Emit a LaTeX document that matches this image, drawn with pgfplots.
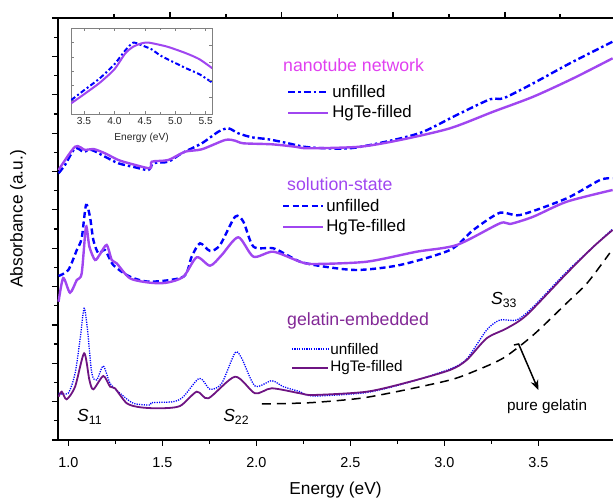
\documentclass[border=0pt]{standalone}
\usepackage{fontspec}
\setmainfont{Liberation Sans}
\usepackage{pgfplots}
\pgfplotsset{compat=1.18}
\usetikzlibrary{arrows.meta}
\definecolor{vio}{RGB}{160,70,240}
\definecolor{mag}{RGB}{224,64,240}
\definecolor{dpur}{RGB}{110,20,130}
\definecolor{gtit}{RGB}{130,40,150}
\definecolor{bl}{RGB}{0,0,255}
\begin{document}
\begin{tikzpicture}
% main axis
\begin{axis}[at={(0,0)}, anchor=south west, scale only axis, width=555pt, height=422pt,
  xmin=0.945, xmax=3.897, ymin=0, ymax=422, clip=false,
  axis x line*=bottom, axis y line*=left, axis line style={-, line width=1.5pt},
  xtick={1,1.5,...,3.5}, minor x tick num=1,
  ytick={0,38.36,...,422}, minor y tick num=1, yticklabels={},
  tick align=outside, major tick length=6pt, minor tick length=4pt,
  every tick/.style={black, line width=1.2pt},
  /pgf/number format/assume math mode=true,
  xticklabel style={yshift=-8pt, font=\fontsize{14.4}{16}\selectfont, /pgf/number format/fixed, /pgf/number format/fixed zerofill, /pgf/number format/precision=1},
  xlabel={Energy (eV)}, ylabel={Absorbance (a.u.)},
  label style={font=\fontsize{17.3}{20}\selectfont},
  xlabel style={at={(axis description cs:0.5,-0.118)}, anchor=center},
  ylabel style={at={(axis description cs:-0.072,0.524)}, anchor=center},
  every axis plot/.append style={smooth, tension=0.45},
]
% nanotube network
\addplot[bl, line width=2.4pt, dash pattern=on 7pt off 3pt on 2.5pt off 3pt] coordinates {
(0.948,266.7)(0.982,275)(1.036,291.7)(1.08,288.3)(1.124,290)(1.195,283.3)(1.266,276.7)(1.355,272.7)(1.426,270)(1.452,276.7)(1.532,278.3)(1.603,286.7)(1.71,296.7)(1.798,308.3)(1.851,311.7)(1.904,306.7)(1.976,302.7)(2.064,300.7)(2.17,296.7)(2.277,292.7)(2.498,291.7)(2.729,300)(2.888,308.3)(3.066,325)(3.243,340.7)(3.314,341.7)(3.473,356.7)(3.668,376.7)(3.895,398.3)};
\addplot[vio, line width=2.4pt] coordinates {
(0.948,270)(1.036,293.3)(1.089,290)(1.133,291)(1.195,286.7)(1.266,280)(1.337,276)(1.435,271.7)(1.444,278.3)(1.532,280)(1.621,288.3)(1.71,290.7)(1.834,300)(1.887,299.3)(1.931,296.7)(2.082,295.7)(2.206,293.3)(2.277,291.7)(2.552,293.3)(2.764,300)(3.03,311.7)(3.26,328.3)(3.473,343.3)(3.686,361.7)(3.895,381.7)};
% solution-state
\addplot[bl, line width=2.4pt, dash pattern=on 6pt off 3.5pt] coordinates {
(0.948,164)(1.0,170)(1.045,190)(1.071,201.7)(1.094,235)(1.115,223.3)(1.133,200)(1.16,186.7)(1.195,190)(1.239,175)(1.328,163.3)(1.435,158.3)(1.612,163.3)(1.656,183.3)(1.70,196.7)(1.754,189)(1.807,195)(1.887,223.3)(1.931,218.3)(1.985,193.3)(2.09,191.7)(2.18,183.3)(2.232,178.3)(2.339,174)(2.534,170)(2.764,175)(3.03,190)(3.154,210)(3.296,227.3)(3.403,225)(3.651,241.7)(3.828,260)(3.895,261.7)};
\addplot[vio, line width=2.4pt] coordinates {
(0.948,138.3)(0.973,162)(1.009,147.3)(1.045,160)(1.071,166.7)(1.094,213.3)(1.112,193.3)(1.142,180)(1.169,186)(1.204,195)(1.231,180)(1.257,176.7)(1.328,161.7)(1.435,157.3)(1.523,157.3)(1.612,163.3)(1.683,182.7)(1.754,174.3)(1.816,185)(1.904,202.7)(1.985,183.3)(2.09,188.3)(2.232,178.3)(2.305,176)(2.587,178.3)(2.853,188.3)(3.066,195)(3.296,216.7)(3.35,216)(3.473,223.3)(3.651,238.3)(3.895,250)};
% gelatin-embedded
\addplot[bl, line width=1.3pt, dash pattern=on 1.2pt off 1.2pt] coordinates {
(0.948,46.7)(1.0,47)(1.036,66.7)(1.062,100)(1.084,131.7)(1.102,110)(1.125,66.7)(1.151,60)(1.186,74)(1.222,56.7)(1.275,46.7)(1.346,36.7)(1.435,35)(1.444,37.3)(1.558,38.3)(1.612,43.3)(1.697,61.7)(1.754,50.7)(1.816,56.7)(1.887,87.3)(1.922,81.7)(1.993,54)(2.082,59.3)(2.144,53.3)(2.232,48.3)(2.303,44)(2.587,47.5)(2.817,58)(3.03,71)(3.119,81)(3.225,110)(3.296,120)(3.385,120)(3.473,133.3)(3.651,168.3)(3.793,193.3)(3.895,211)};
\addplot[dpur, line width=1.8pt] coordinates {
(0.948,43.3)(0.965,48.3)(0.991,40.7)(1.036,53.3)(1.084,86.7)(1.112,60)(1.133,50.7)(1.186,64)(1.222,53.3)(1.248,51.7)(1.311,36.7)(1.382,32.7)(1.488,31.7)(1.594,34)(1.683,48.3)(1.745,41.7)(1.887,63.3)(1.993,46.7)(2.082,51.7)(2.232,46.7)(2.303,45)(2.587,48.3)(2.817,58.3)(3.03,70)(3.119,80)(3.225,101.7)(3.332,111.7)(3.438,125)(3.651,166.7)(3.793,193.3)(3.895,210)};
% pure gelatin
\addplot[black, line width=1.5pt, dash pattern=on 9pt off 6pt] coordinates {
(2.029,36)(2.286,37.3)(2.552,41.7)(2.764,49)(3.03,60)(3.154,68.3)(3.314,82)(3.473,105)(3.651,137)(3.76,157)(3.88,187)};
% legends
\node[anchor=west, inner sep=0, text=mag, font=\fontsize{17.7}{20}\selectfont] at (2.142,375) {nanotube network};
\draw[bl, line width=2.4pt, dash pattern=on 7pt off 3pt on 2.5pt off 3pt] (2.169,348) -- (2.382,348);
\node[anchor=west, inner sep=0, font=\fontsize{16.8}{19}\selectfont] at (2.403,348) {unfilled};
\draw[vio, line width=2.4pt] (2.169,327) -- (2.382,327);
\node[anchor=west, inner sep=0, font=\fontsize{16.8}{19}\selectfont] at (2.403,327) {HgTe-filled};

\node[anchor=west, inner sep=0, text=vio, font=\fontsize{17.7}{20}\selectfont] at (2.163,256) {solution-state};
\draw[bl, line width=2.4pt, dash pattern=on 6pt off 3.5pt] (2.142,234) -- (2.354,234);
\node[anchor=west, inner sep=0, font=\fontsize{16.8}{19}\selectfont] at (2.371,234) {unfilled};
\draw[vio, line width=2.4pt] (2.142,213) -- (2.354,213);
\node[anchor=west, inner sep=0, font=\fontsize{16.8}{19}\selectfont] at (2.371,213) {HgTe-filled};

\node[anchor=west, inner sep=0, text=gtit, font=\fontsize{17.7}{20}\selectfont] at (2.163,119.3) {gelatin-embedded};
\draw[bl, line width=1.3pt, dash pattern=on 1.2pt off 1.2pt] (2.19,91) -- (2.382,91);
\node[anchor=west, inner sep=0, font=\fontsize{15.3}{17}\selectfont] at (2.392,91) {unfilled};
\draw[dpur, line width=1.8pt] (2.19,72) -- (2.382,72);
\node[anchor=west, inner sep=0, font=\fontsize{15.3}{17}\selectfont] at (2.392,72) {HgTe-filled};

\node[anchor=west, inner sep=0, font=\fontsize{15.3}{17}\selectfont] at (3.333,33) {pure gelatin};
\draw[line width=1.5pt, -{Stealth[length=10pt,width=8pt]}] (3.37,95) -- (3.395,96) -- (3.5,50);

\node[anchor=west, inner sep=0, font=\fontsize{17.5}{20}\selectfont] at (1.046,23) {\textit{S}\textsubscript{11}};
\node[anchor=west, inner sep=0, font=\fontsize{17.5}{20}\selectfont] at (1.823,23) {\textit{S}\textsubscript{22}};
\node[anchor=west, inner sep=0, font=\fontsize{17.5}{20}\selectfont] at (3.248,140) {\textit{S}\textsubscript{33}};
\end{axis}
% top axis with its own ticks
\begin{axis}[at={(0,0)}, anchor=south west, scale only axis, width=555pt, height=422pt,
  xmin=0.945, xmax=3.897, ymin=0, ymax=422,
  axis x line*=top, axis y line=none, axis line style={-, line width=1.5pt},
  xtick={1.541,2.135,2.727,3.323}, minor xtick={1.243,1.839,2.431,3.025,3.615}, xticklabels={},
  tick align=outside, major tick length=6pt, minor tick length=4pt,
  every tick/.style={black, line width=1.2pt}]
\addplot[draw=none] coordinates {(1,1)};
\end{axis}
% inset
\begin{axis}[at={(13pt,325.7pt)}, anchor=south west, scale only axis, width=141.3pt, height=86pt,
  xmin=3.286, xmax=5.61, ymin=0, ymax=86,
  axis line style={black!50, line width=0.8pt},
  xtick={3.5,4,...,5.5}, minor x tick num=1, xtick pos=both,
  ytick={14.3,28.6,42.9,57.2,71.5}, yticklabels={}, ytick pos=left,
  tick align=inside, major tick length=3pt, minor tick length=2pt,
  every tick/.style={black!50, line width=0.6pt},
  /pgf/number format/assume math mode=true,
  xticklabel style={font=\fontsize{10.2}{12}\selectfont, text=black!85, /pgf/number format/fixed, /pgf/number format/fixed zerofill, /pgf/number format/precision=1},
  xlabel={Energy (eV)},
  xlabel style={font=\fontsize{10.2}{12}\selectfont, text=black!85, at={(axis description cs:0.5,-0.27)}, anchor=center},
  every axis plot/.append style={smooth, tension=0.4}]
\addplot[bl, line width=2pt, dash pattern=on 5pt off 2.5pt on 2pt off 2.5pt] coordinates {
(3.29,14.3)(3.5,24)(3.76,36)(4.0,50)(4.18,64)(4.31,71.6)(4.45,69)(4.61,65)(4.75,59)(4.91,54)(5.18,46)(5.4,40)(5.61,31.6)};
\addplot[vio, line width=2pt] coordinates {
(3.29,11)(3.5,20)(3.76,31.6)(4.0,45)(4.18,61)(4.31,67.6)(4.45,71)(4.57,71.6)(4.87,67.6)(5.18,61)(5.4,55)(5.61,46)};
\end{axis}
\begin{axis}[at={(13pt,325.7pt)}, anchor=south west, scale only axis, width=141.3pt, height=86pt,
  xmin=3.286, xmax=5.61, ymin=0, ymax=86,
  axis x line=none, axis y line*=right, axis line style={-, black!50, line width=0.8pt},
  ytick={17.2,34.4,51.6,68.8}, yticklabels={},
  tick align=inside, major tick length=3pt,
  every tick/.style={black!50, line width=0.6pt}]
\addplot[draw=none] coordinates {(4,40)};
\end{axis}
\pgfresetboundingbox
\path (-58pt,-60pt) rectangle (555pt,440pt);
\end{tikzpicture}
\end{document}
